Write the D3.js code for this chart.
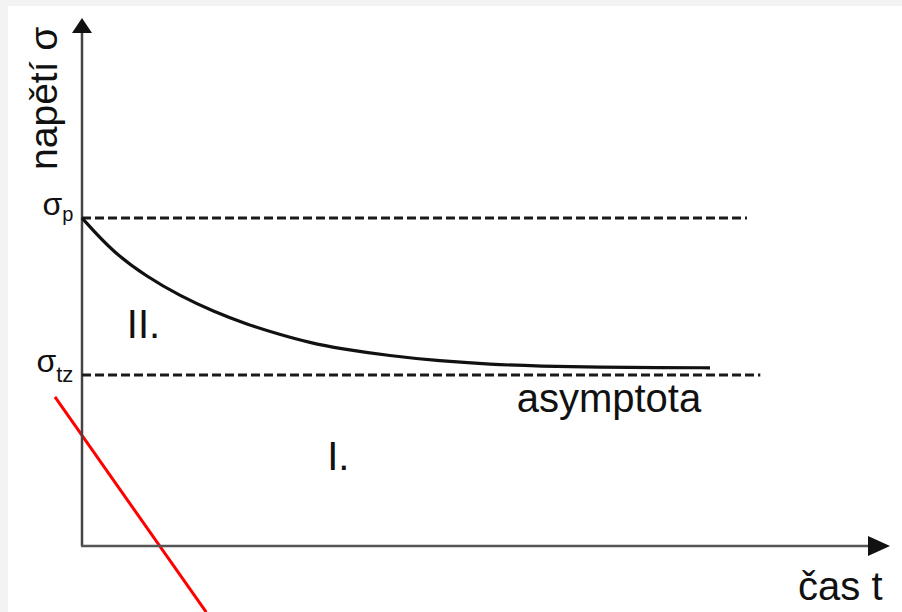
<!DOCTYPE html>
<html>
<head>
<meta charset="utf-8">
<script src="https://cdn.jsdelivr.net/npm/d3@7"></script>
<style>
  body { margin: 0; background: #fff; }
  svg { display: block; }
  text { font-family: "Liberation Sans", Arial, sans-serif; fill: #111; }
</style>
</head>
<body>
<svg id="chart" width="902" height="612"></svg>
<script>
// časové hodnoty křivky relaxace (t) a napětí (σ, 0 = σtz, 1 = σp)
const casT   = [0, 3.9, 8.3, 12.5, 16.7, 21.0, 25.2, 29.0, 32.8, 39.2, 45.5, 51.9, 58.3, 65.9, 73.5, 79.9];
const napeti = [1.0, 0.783, 0.624, 0.503, 0.405, 0.322, 0.258, 0.205, 0.168, 0.122, 0.089, 0.068, 0.056, 0.050, 0.047, 0.046];

// úrovně napětí a délky přerušovaných čar
const urovne = [
  {name: "p",  sigma: 1, tEnd: 84.6},
  {name: "tz", sigma: 0, tEnd: 86.3}
];

// popisky oblastí
const popisky = [
  {text: "II.",       t: 5.7,  s: 0.236},
  {text: "I.",        t: 31.2, s: -0.605},
  {text: "asymptota", t: 55.3, s: -0.236}
];

const svg = d3.select("#chart");

// jemný okraj pozadí
svg.append("rect").attr("width", 902).attr("height", 612).attr("fill", "#f3f3f3");
svg.append("rect").attr("x", 8).attr("y", 6).attr("width", 894).attr("height", 606).attr("fill", "#fff");

const x = d3.scaleLinear().domain([0, 100]).range([82, 868]);
const y = d3.scaleLinear().domain([-1.089, 2.178]).range([546, 33]);

const [x0, x1] = x.range();
const [y0, y1] = y.range();

// červená čára (pod osami)
svg.append("line")
   .attr("x1", x(-3.44)).attr("y1", y(-0.14))
   .attr("x2", x(15.8)).attr("y2", y(-1.51))
   .attr("stroke", "#ff0000")
   .attr("stroke-width", 3);

// osy
svg.append("path")
   .attr("d", `M${x0},${y0}V${y1}`)
   .attr("stroke", "#444").attr("stroke-width", 2.5).attr("fill", "none");
svg.append("path")
   .attr("d", `M${x0 - 1},${y0}H${x1}`)
   .attr("stroke", "#555").attr("stroke-width", 2.5).attr("fill", "none");

// šipky
svg.append("path")
   .attr("d", `M${x0},${y1 - 15}L${x0 - 10},${y1}L${x0 + 10},${y1}Z`)
   .attr("fill", "#111");
svg.append("path")
   .attr("d", `M${x1 + 22},${y0}L${x1},${y0 - 10}L${x1},${y0 + 10}Z`)
   .attr("fill", "#111");

// přerušované čáry σp, σtz
svg.selectAll("line.dash")
  .data(urovne)
  .enter().append("line")
    .attr("class", "dash")
    .attr("x1", x(0)).attr("x2", d => x(d.tEnd))
    .attr("y1", d => y(d.sigma)).attr("y2", d => y(d.sigma))
    .attr("stroke", "#1a1a1a").attr("stroke-width", 3)
    .attr("stroke-dasharray", "9,4");

// popisky σ na ose
const sig = svg.selectAll("text.sig")
  .data(urovne)
  .enter().append("text")
    .attr("class", "sig")
    .attr("text-anchor", "end")
    .attr("x", x(-1.1))
    .attr("y", d => y(d.sigma) - 3);
sig.append("tspan").style("font-size", "32px").text("σ");
sig.append("tspan")
   .style("font-size", d => d.name === "p" ? "20px" : "22px")
   .attr("dy", d => d.name === "p" ? 6 : 10)
   .text(d => d.name);

// křivka
const body = casT.map((t, i) => [t, napeti[i]]);
svg.append("path")
   .datum(body)
   .attr("d", d3.line().x(d => x(d[0])).y(d => y(d[1])).curve(d3.curveBasis))
   .attr("fill", "none")
   .attr("stroke", "#111")
   .attr("stroke-width", 3.2);

// popisky oblastí
svg.selectAll("text.lbl")
  .data(popisky)
  .enter().append("text")
    .attr("class", "lbl")
    .attr("x", d => x(d.t))
    .attr("y", d => y(d.s))
    .style("font-size", "40px")
    .text(d => d.text);

// názvy os
svg.append("text")
   .attr("transform", `translate(${x(-3.2)},${y(1.306)}) rotate(-90)`)
   .style("font-size", "39px")
   .text("napětí σ");

svg.append("text")
   .attr("x", x(91.1))
   .attr("y", y(-1.433))
   .style("font-size", "40px")
   .text("čas t");
</script>
</body>
</html>
